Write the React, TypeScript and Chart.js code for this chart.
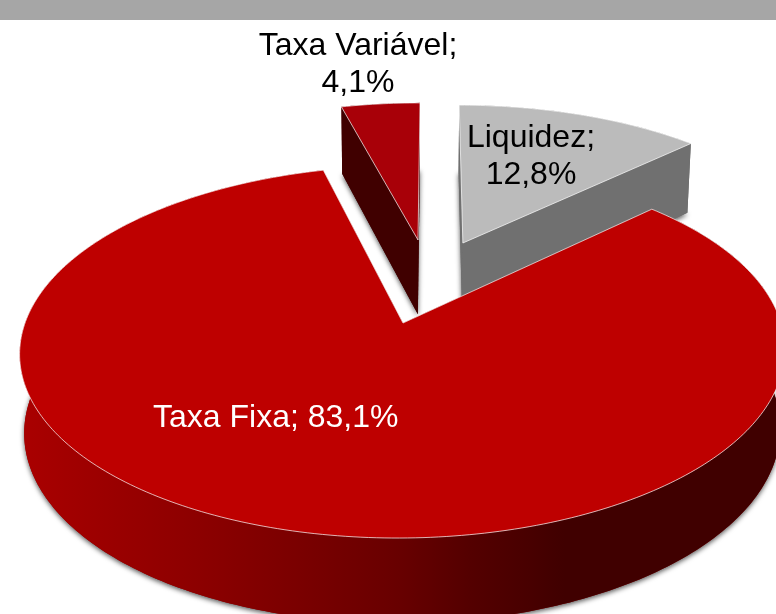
import React, { useEffect, useRef } from "react";
import { Chart, registerables } from "chart.js";

Chart.register(...registerables);

const categories = ["Liquidez", "Taxa Fixa", "Taxa Variável"];
const shares = [12.8, 83.1, 4.1];
const topColors = ["#bbbbbb", "#be0000", "#a80008"];
const wallColors = ["#707070", "#8c0000", "#400000"];
const labelColors = ["#000000", "#ffffff", "#000000"];

// plane offsets of each exploded slice (across, depth)
const explode: [number, number][] = [[0.164, -0.4725], [0, 0], [0.0365, -0.4916]];
const paintOrder = [0, 2, 1];
const labelLayout: { x: number; y: number; align: CanvasTextAlign; oneLine: boolean }[] = [
  { x: 531, y: 147, align: "center", oneLine: false },
  { x: 153, y: 427, align: "left", oneLine: true },
  { x: 358, y: 55, align: "center", oneLine: false },
];

const K = 0.155;
const R = 378;
const SKEW = -4.8;
const RV = 181.7;
const CX = 403;
const CY = 323;

type Pt = [number, number];

const top3d = (u: number, v: number): Pt => {
  const w = 1 - K * v;
  return [CX + (R * u + SKEW * v) / w, CY + (RV * v) / w];
};
const bottom3d = (u: number, v: number): Pt => {
  const w = 1 - K * v;
  const [x, y] = top3d(u, v);
  return [CX + (x - CX) * 0.988, y + 67 + 48 * (1.226 - w)];
};

const trace = (ctx: CanvasRenderingContext2D, pts: Pt[]) => {
  ctx.beginPath();
  pts.forEach(([x, y], i) => (i ? ctx.lineTo(x, y) : ctx.moveTo(x, y)));
  ctx.closePath();
};

const pie3d = {
  id: "pie3d",
  beforeDraw(chart: any) {
    const { ctx, width } = chart;
    ctx.save();
    ctx.fillStyle = "#a6a6a6";
    ctx.fillRect(0, 0, width, 20);
    ctx.restore();
  },
  beforeDatasetDraw(chart: any) {
    const { ctx } = chart;
    const meta = chart.getDatasetMeta(0);
    ctx.save();
    for (const i of paintOrder) {
      const arc = meta.data[i];
      const a0 = arc.startAngle + Math.PI / 2;
      const a1 = arc.endAngle + Math.PI / 2;
      const [ox, oy] = explode[i];
      const steps = Math.max(4, Math.ceil(((a1 - a0) * 180) / Math.PI));
      const rim: Pt[] = [];
      const rimB: Pt[] = [];
      for (let s = 0; s <= steps; s++) {
        const t = a0 + ((a1 - a0) * s) / steps;
        const u = Math.sin(t) + ox;
        const v = -Math.cos(t) + oy;
        rim.push(top3d(u, v));
        rimB.push(bottom3d(u, v));
      }
      const apex = top3d(ox, oy);
      const apexB = bottom3d(ox, oy);

      // soft shadow of the slice's foot
      ctx.save();
      ctx.shadowColor = "rgba(0,0,0,0.65)";
      ctx.shadowBlur = 5;
      ctx.shadowOffsetY = 2;
      ctx.fillStyle = wallColors[i];
      trace(ctx, [apexB, ...rimB]);
      ctx.fill();
      ctx.restore();

      // walls
      let wall: any = wallColors[i];
      if (i === 1) {
        const g = ctx.createLinearGradient(20, 0, 776, 0);
        g.addColorStop(0, "#aa0000");
        g.addColorStop(0.106, "#9c0000");
        g.addColorStop(0.238, "#8c0000");
        g.addColorStop(0.37, "#7a0000");
        g.addColorStop(0.5, "#680000");
        g.addColorStop(0.595, "#540000");
        g.addColorStop(0.675, "#480000");
        g.addColorStop(0.72, "#400000");
        g.addColorStop(1, "#400000");
        wall = g;
      }
      ctx.fillStyle = wall;
      trace(ctx, [...rim, ...[...rimB].reverse()]);
      ctx.fill();
      trace(ctx, [apex, rim[0], rimB[0], apexB]);
      ctx.fill();
      trace(ctx, [apex, rim[rim.length - 1], rimB[rimB.length - 1], apexB]);
      ctx.fill();

      // top face
      ctx.fillStyle = topColors[i];
      ctx.strokeStyle = "rgba(255,255,255,0.7)";
      ctx.lineWidth = 1;
      trace(ctx, [apex, ...rim]);
      ctx.fill();
      ctx.stroke();
    }
    ctx.restore();
    return false;
  },
  afterDatasetsDraw(chart: any) {
    const { ctx } = chart;
    ctx.save();
    ctx.font = '32px "Liberation Sans"';
    ctx.textBaseline = "alphabetic";
    categories.forEach((name, i) => {
      const l = labelLayout[i];
      const pct = `${shares[i].toFixed(1).replace(".", ",")}%`;
      ctx.fillStyle = labelColors[i];
      ctx.textAlign = l.align;
      if (l.oneLine) {
        ctx.fillText(`${name}; ${pct}`, l.x, l.y);
      } else {
        ctx.fillText(`${name};`, l.x, l.y);
        ctx.fillText(pct, l.x, l.y + 36.5);
      }
    });
    ctx.restore();
  },
};

export default function App() {
  const ref = useRef<HTMLCanvasElement>(null);
  useEffect(() => {
    document.body.style.margin = "0";
    const chart = new Chart(ref.current!, {
      type: "pie",
      data: {
        labels: categories,
        datasets: [{ data: shares, backgroundColor: topColors, borderWidth: 0 }],
      },
      options: {
        animation: false,
        responsive: false,
        events: [],
        plugins: { legend: { display: false }, tooltip: { enabled: false } },
      },
      plugins: [pie3d],
    } as any);
    return () => chart.destroy();
  }, []);
  return (
    <canvas
      ref={ref}
      width={776}
      height={614}
      style={{ position: "absolute", left: 0, top: 0, width: 776, height: 614 }}
    />
  );
}
